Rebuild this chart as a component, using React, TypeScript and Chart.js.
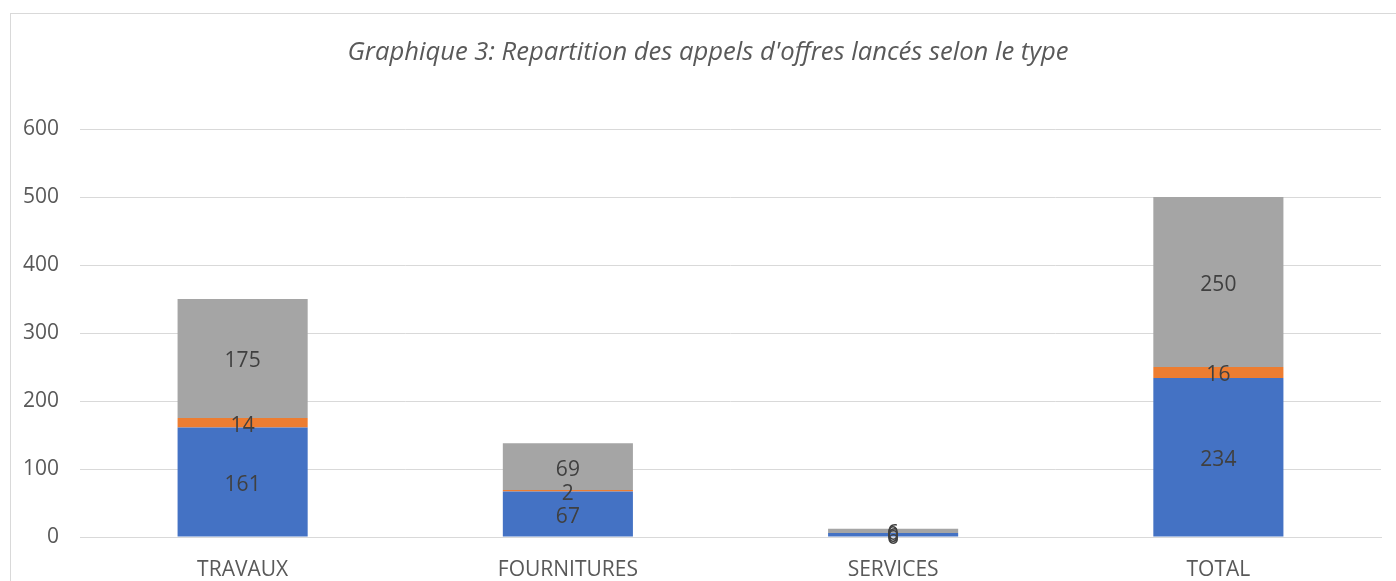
import { useEffect, useRef } from "react";
import { Chart, registerables } from "chart.js";

Chart.register(...registerables);

const categories = ["TRAVAUX", "FOURNITURES", "SERVICES", "TOTAL"];
const seriesBlue = [161, 67, 6, 234];
const seriesOrange = [14, 2, 0, 16];
const seriesGray = [175, 69, 6, 250];
const yTicks = [0, 100, 200, 300, 400, 500, 600];
const titleText = "Graphique 3: Repartition des appels d'offres lancés selon le type";

const FONT = "'Open Sans', sans-serif";

const borderPlugin = {
  id: "outerBorder",
  beforeDraw(chart: any) {
    const ctx = chart.ctx;
    ctx.save();
    ctx.fillStyle = "#ffffff";
    ctx.fillRect(0, 0, chart.width, chart.height);
    ctx.strokeStyle = "#D9D9D9";
    ctx.lineWidth = 1;
    ctx.strokeRect(10.5, 13.5, chart.width + 20, chart.height + 20);
    ctx.font = `italic 25.6px ${FONT}`;
    ctx.fillStyle = "#595959";
    ctx.textAlign = "center";
    ctx.textBaseline = "middle";
    ctx.fillText(titleText, chart.width / 2 + 10, 53);
    ctx.restore();
  },
};

const labelPlugin = {
  id: "valueLabels",
  afterDatasetsDraw(chart: any) {
    const ctx = chart.ctx;
    ctx.save();
    ctx.font = `21px ${FONT}`;
    ctx.fillStyle = "#404040";
    ctx.textAlign = "center";
    ctx.textBaseline = "middle";
    chart.data.datasets.forEach((ds: any, di: number) => {
      const meta = chart.getDatasetMeta(di);
      meta.data.forEach((bar: any, i: number) => {
        const v = ds.data[i];
        const y = (bar.y + bar.base) / 2 + 3;
        ctx.fillText(String(v), bar.x, y);
      });
    });
    ctx.restore();
  },
};

export default function App() {
  const ref = useRef<HTMLCanvasElement>(null);
  useEffect(() => {
    if (!ref.current) return;
    const chart = new Chart(ref.current, {
      type: "bar",
      data: {
        labels: categories,
        datasets: [
          { label: "A", data: seriesBlue, backgroundColor: "#4472C4" },
          { label: "B", data: seriesOrange, backgroundColor: "#ED7D31" },
          { label: "C", data: seriesGray, backgroundColor: "#A5A5A5" },
        ],
      },
      options: {
        animation: false,
        responsive: false,
        maintainAspectRatio: false,
        layout: { padding: { left: 10, right: 15, top: 129, bottom: 0 } },
        datasets: { bar: { categoryPercentage: 0.4, barPercentage: 1 } },
        plugins: {
          legend: { display: false },
          tooltip: { enabled: false },
          title: { display: false },
        },
        scales: {
          x: {
            stacked: true,
            grid: { display: false, drawTicks: false },
            border: { color: "#D9D9D9", width: 1 },
            afterFit: (scale: any) => {
              scale.height = 44;
            },
            ticks: {
              color: "#595959",
              font: { family: FONT, size: 21 },
              padding: 20,
              maxRotation: 0,
            },
          },
          y: {
            stacked: true,
            min: 0,
            max: 600,
            afterBuildTicks: (scale: any) => {
              scale.ticks = yTicks.map((v) => ({ value: v }));
            },
            afterFit: (scale: any) => {
              scale.width = 70;
            },
            grid: { color: "#D9D9D9", drawTicks: false, lineWidth: 1 },
            border: { display: false },
            ticks: {
              color: "#595959",
              font: { family: FONT, size: 21 },
              padding: 21,
            },
          },
        },
      },
      plugins: [borderPlugin, labelPlugin],
    });
    return () => chart.destroy();
  }, []);
  return (
    <div style={{ position: "fixed", left: 0, top: 0, width: 1396, height: 581, overflow: "hidden" }}>
      <canvas ref={ref} width={1396} height={581} style={{ display: "block" }} />
    </div>
  );
}
